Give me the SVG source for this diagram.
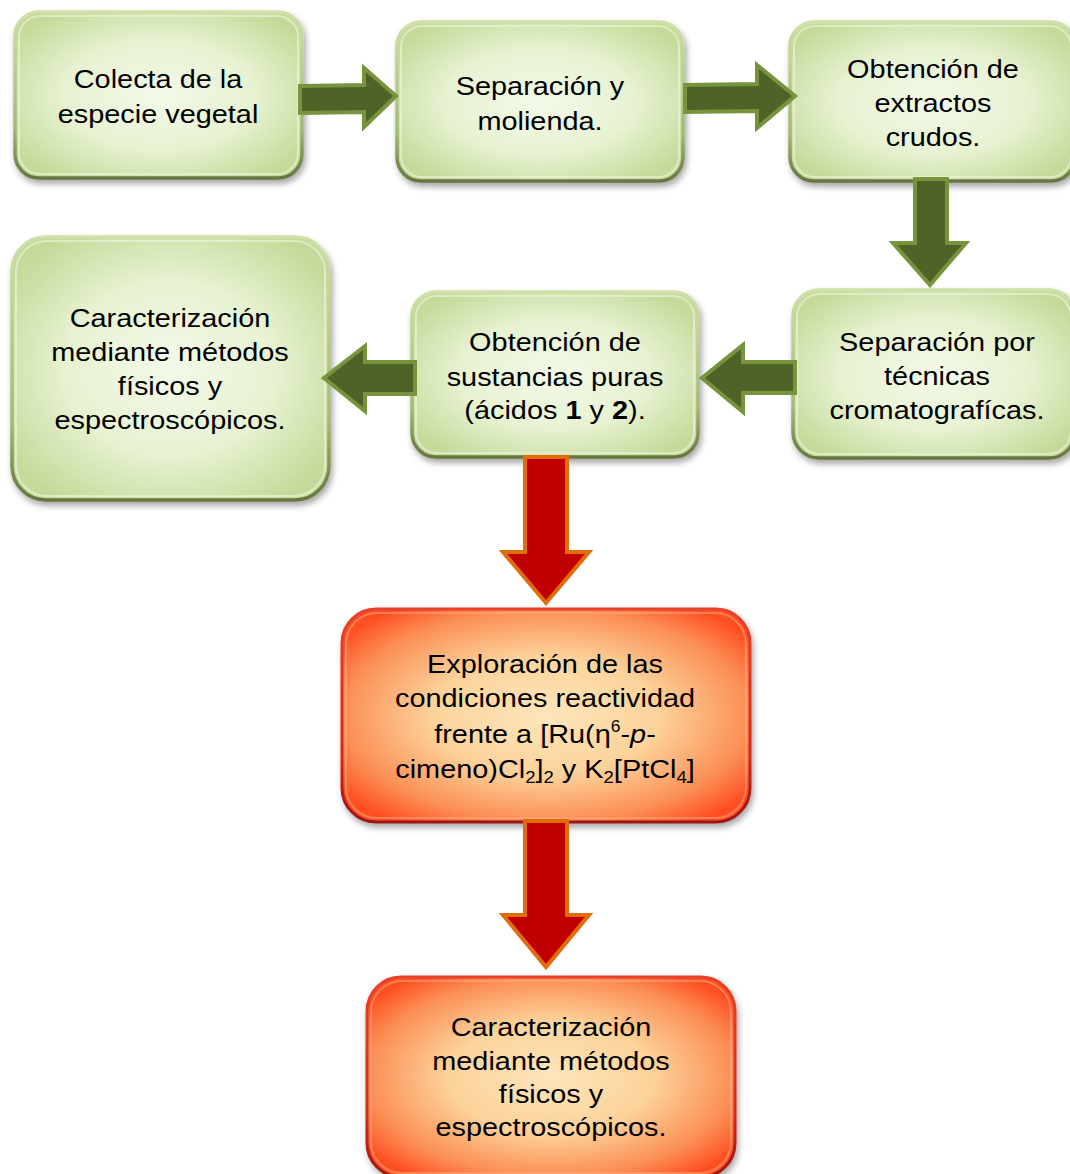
<svg xmlns="http://www.w3.org/2000/svg" width="1070" height="1174" viewBox="0 0 1070 1174">
<defs>
<radialGradient id="gG" cx="50%" cy="50%" r="60%">
<stop offset="0" stop-color="#f3f9e8"/>
<stop offset="0.55" stop-color="#e7f2d2"/>
<stop offset="1" stop-color="#c5da9a"/>
</radialGradient>
<linearGradient id="gS" x1="0" y1="0" x2="0" y2="1">
<stop offset="0" stop-color="#cfe0a8"/>
<stop offset="0.7" stop-color="#a4b878"/>
<stop offset="1" stop-color="#66763f"/>
</linearGradient>
<radialGradient id="rG" cx="50%" cy="50%" r="62%">
<stop offset="0" stop-color="#fde6bb"/>
<stop offset="0.45" stop-color="#fcd29a"/>
<stop offset="0.8" stop-color="#fb8f55"/>
<stop offset="1" stop-color="#ff4f22"/>
</radialGradient>
<linearGradient id="rS" x1="0" y1="0" x2="0" y2="1">
<stop offset="0" stop-color="#e8402a"/>
<stop offset="0.7" stop-color="#d52a1a"/>
<stop offset="1" stop-color="#9c1212"/>
</linearGradient>
<filter id="sh" x="-10%" y="-10%" width="125%" height="130%">
<feDropShadow dx="2" dy="4" stdDeviation="3" flood-color="#000" flood-opacity="0.35"/>
</filter>
<style>
.gbox{fill:url(#gG);stroke:url(#gS);stroke-width:3.5;filter:url(#sh)}
.ghi{fill:none;stroke:#eef6de;stroke-width:2;opacity:0.6}
.rbox{fill:url(#rG);stroke:url(#rS);stroke-width:3;filter:url(#sh)}
.rhi{fill:none;stroke:#ffb080;stroke-width:2;opacity:0.5}
.t{font-family:"Liberation Sans",Arial,sans-serif;font-size:26.5px;fill:#000;text-anchor:middle}
.ga{fill:#4f6228;stroke:#77933c;stroke-width:4;stroke-linejoin:miter}
.ra{fill:#c00000;stroke:#e36c0a;stroke-width:4;stroke-linejoin:miter}
</style>
</defs>
<rect width="1070" height="1174" fill="#ffffff"/>

<g id="n1">
<rect class="gbox" x="15" y="12" width="287" height="166" rx="24"/>
<rect class="ghi" x="19" y="16" width="279" height="158" rx="21"/>
<text class="t" transform="translate(158,0) scale(1.09,1)"><tspan x="0" y="88">Colecta de la</tspan><tspan x="0" y="123">especie vegetal</tspan></text>
</g>
<g id="n2">
<rect class="gbox" x="397" y="22" width="286" height="159" rx="24"/>
<rect class="ghi" x="401" y="26" width="278" height="151" rx="21"/>
<text class="t" transform="translate(540,0) scale(1.09,1)"><tspan x="0" y="95">Separación y</tspan><tspan x="0" y="130">molienda.</tspan></text>
</g>
<g id="n3">
<rect class="gbox" x="790" y="22" width="285" height="159" rx="24"/>
<rect class="ghi" x="794" y="26" width="277" height="151" rx="21"/>
<text class="t" transform="translate(933,0) scale(1.09,1)"><tspan x="0" y="78">Obtención de</tspan><tspan x="0" y="112">extractos</tspan><tspan x="0" y="146">crudos.</tspan></text>
</g>
<g id="n4">
<rect class="gbox" x="793" y="290" width="282" height="168" rx="26"/>
<rect class="ghi" x="797" y="294" width="274" height="160" rx="23"/>
<text class="t" transform="translate(937,0) scale(1.09,1)"><tspan x="0" y="351">Separación por</tspan><tspan x="0" y="385">técnicas</tspan><tspan x="0" y="419">cromatografícas.</tspan></text>
</g>
<g id="n5">
<rect class="gbox" x="412" y="292" width="286" height="165" rx="24"/>
<rect class="ghi" x="416" y="296" width="278" height="157" rx="21"/>
<text class="t" transform="translate(555,0) scale(1.09,1)"><tspan x="0" y="351">Obtención de</tspan><tspan x="0" y="386">sustancias puras</tspan><tspan x="0" y="419">(ácidos <tspan font-weight="bold">1</tspan> y <tspan font-weight="bold">2</tspan>).</tspan></text>
</g>
<g id="n6">
<rect class="gbox" x="12" y="237" width="317" height="263" rx="34"/>
<rect class="ghi" x="16" y="241" width="309" height="255" rx="31"/>
<text class="t" transform="translate(170,0) scale(1.09,1)"><tspan x="0" y="327">Caracterización</tspan><tspan x="0" y="361">mediante métodos</tspan><tspan x="0" y="395">físicos y</tspan><tspan x="0" y="429">espectroscópicos.</tspan></text>
</g>
<g id="n7">
<rect class="rbox" x="342" y="609" width="408" height="213" rx="34"/>
<rect class="rhi" x="346" y="613" width="400" height="205" rx="31"/>
<text class="t" transform="translate(545,0) scale(1.09,1)"><tspan x="0" y="673">Exploración de las</tspan><tspan x="0" y="707">condiciones reactividad</tspan><tspan x="0" y="743">frente a [Ru(η<tspan font-size="16" dy="-11">6</tspan><tspan dy="11">-</tspan><tspan font-style="italic">p</tspan>-</tspan><tspan x="0" y="778">cimeno)Cl<tspan font-size="17" dy="5">2</tspan><tspan dy="-5">]</tspan><tspan font-size="17" dy="5">2</tspan><tspan dy="-5"> y K</tspan><tspan font-size="17" dy="5">2</tspan><tspan dy="-5">[PtCl</tspan><tspan font-size="17" dy="5">4</tspan><tspan dy="-5">]</tspan></tspan></text>
</g>
<g id="n8">
<rect class="rbox" x="367" y="977" width="368" height="200" rx="34"/>
<rect class="rhi" x="371" y="981" width="360" height="192" rx="31"/>
<text class="t" transform="translate(551,0) scale(1.09,1)"><tspan x="0" y="1036">Caracterización</tspan><tspan x="0" y="1070">mediante métodos</tspan><tspan x="0" y="1103">físicos y</tspan><tspan x="0" y="1136">espectroscópicos.</tspan></text>
</g>

<g id="connectors">
<polygon class="ga" points="300,86 364,85 364,68 396,96 364,127 364,112 300,113"/>
<polygon class="ga" points="685,85 757,84 757,65 795,96 757,128 757,111 685,112"/>
<polygon class="ga" points="915,179 947,179 947,243 966,243 930,285 893,243 915,243"/>
<polygon class="ga" points="795,362 743,362 743,345 702,378 743,412 743,393 795,393"/>
<polygon class="ga" points="415,362 365,362 365,346 324,378 365,411 365,394 415,394"/>
<polygon class="ra" points="525,457 567,457 567,552 589,552 546,603 503,552 525,552"/>
<polygon class="ra" points="525,821 567,821 567,915 589,915 546,967 503,915 525,915"/>
</g>
</svg>
